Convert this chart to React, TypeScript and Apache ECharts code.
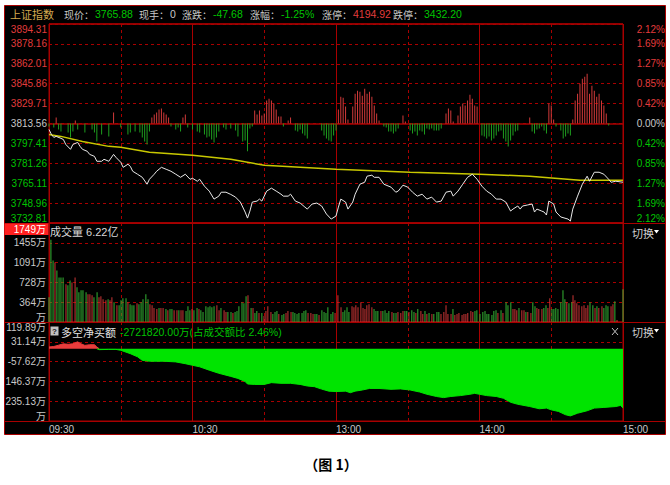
import React, { useEffect, useRef } from "react";
import * as echarts from "echarts";

// ---------- tick labels ----------
const timeTicks = ["09:30", "10:30", "13:00", "14:00", "15:00"];
const priceTicks = ["3732.81", "3748.96", "3765.11", "3781.26", "3797.41", "3813.56", "3829.71", "3845.86", "3862.01", "3878.16", "3894.31"];
const pctTicks = ["2.12%", "1.69%", "1.27%", "0.85%", "0.42%", "0.00%", "0.42%", "0.85%", "1.27%", "1.69%", "2.12%"];
const volumeTicks = ["万", "364万", "728万", "1091万", "1455万"];
const netBuyTicks = ["万", "235.13万", "146.37万", "-57.62万", "31.14万", "119.89万"];

const PRICE_MIN = 3732.81;
const PRICE_MAX = 3894.31;
const PRICE_STEP = 16.15;
const VOL_MAX = 1819;
const VOL_STEP = 363.8;
const NET_MIN = -323.91;
const NET_MAX = 119.89;
const NET_STEP = 88.76;

// ---------- header quote ----------
const quoteName = "上证指数";
const quoteFields = [
  ["现价：", "3765.88", "g"],
  ["现手：", "0", "w"],
  ["涨跌：", "-47.68", "g"],
  ["涨幅：", "-1.25%", "g"],
  ["涨停：", "4194.92", "r"],
  ["跌停：", "3432.20", "g"],
];
const volumeTitle = "成交量 6.22亿";
const volumeCursor = "1749万";
const netBuyTitle = "多空净买额";
const netBuyValue = "-2721820.00万(占成交额比 2.46%)";

// ---------- series: [minute from 09:30, value] ----------
const priceLine = [
  [0, 3808.7], [1, 3804.7], [2, 3802.3], [3, 3803.1], [5, 3801.5], [6, 3800.6], [7, 3796.6], [9, 3792.6], [10, 3796.6], [12, 3798.2],
  [13, 3795.0], [14, 3792.6], [16, 3791.0], [17, 3788.5], [19, 3786.9], [20, 3782.9], [22, 3782.9], [23, 3784.5], [25, 3782.9], [27, 3788.5],
  [28, 3786.1], [30, 3782.1], [31, 3778.0], [33, 3780.5], [34, 3778.8], [35, 3774.8], [37, 3772.4], [39, 3769.9], [41, 3764.3], [42, 3768.3],
  [44, 3772.4], [45, 3774.8], [47, 3778.0], [49, 3776.4], [51, 3774.8], [53, 3772.4], [55, 3769.9], [57, 3772.4], [59, 3768.3], [60, 3769.1],
  [62, 3766.7], [63, 3768.3], [65, 3762.7], [67, 3758.7], [69, 3752.2], [71, 3754.6], [72, 3757.8], [74, 3757.8], [76, 3756.0], [78, 3753.8],
  [80, 3749.8], [82, 3741.7], [83, 3736.8], [84, 3742.5], [85, 3749.8], [87, 3750.6], [88, 3752.2], [89, 3750.6], [91, 3758.7], [93, 3761.1],
  [95, 3758.7], [97, 3756.2], [98, 3754.6], [100, 3754.6], [101, 3756.2], [103, 3750.6], [105, 3749.0], [107, 3745.7], [108, 3744.1], [110, 3748.2],
  [112, 3749.0], [114, 3746.6], [116, 3740.1], [118, 3736.0], [120, 3738.5], [121, 3745.7], [122, 3752.2], [124, 3749.8], [125, 3744.1], [127, 3749.8],
  [128, 3756.2], [130, 3764.3], [132, 3765.9], [133, 3770.8], [135, 3771.6], [136, 3769.9], [138, 3769.9], [140, 3764.3], [143, 3761.9], [145, 3757.8],
  [146, 3758.7], [148, 3763.5], [150, 3761.9], [152, 3757.8], [154, 3754.6], [156, 3756.2], [158, 3752.2], [160, 3753.8], [162, 3749.8], [164, 3750.6],
  [166, 3757.8], [168, 3758.7], [169, 3754.6], [171, 3758.7], [173, 3764.3], [175, 3769.9], [177, 3772.4], [179, 3768.3], [181, 3762.7], [183, 3758.7],
  [185, 3756.2], [187, 3752.2], [189, 3752.2], [191, 3749.8], [193, 3742.5], [194, 3744.1], [196, 3746.6], [197, 3744.1], [198, 3746.6], [200, 3747.4],
  [202, 3748.2], [203, 3741.7], [204, 3744.1], [206, 3742.5], [207, 3741.7], [208, 3739.3], [209, 3750.6], [211, 3748.2], [212, 3741.7], [214, 3737.7],
  [217, 3736.0], [218, 3734.4], [219, 3744.1], [221, 3754.6], [223, 3764.3], [225, 3770.8], [226, 3766.7], [228, 3774.0], [230, 3774.0], [232, 3772.4],
  [234, 3768.3], [235, 3765.9], [237, 3766.7], [240, 3765.9],
];

const avgLine = [
  [0, 3804.7], [5, 3803.1], [14, 3799.0], [25, 3795.0], [30, 3794.2], [42, 3790.2], [60, 3787.7], [76, 3784.5],
  [90, 3779.7], [120, 3776.4], [151, 3774.0], [180, 3772.4], [201, 3770.8], [222, 3767.5], [240, 3767.5],
];

// buying / selling power bars (arbitrary units, + red, - green)
const powerBars = [
  [0, -3], [2, -4], [3, 6], [4, -6], [5, -8], [8, -9], [9, -14], [10, -8], [11, 3], [12, -6], [15, -9], [18, -6], [19, -9], [20, -18],
  [22, -11], [25, -13], [27, 11], [30, -4], [33, -11], [34, -9], [36, -8], [38, -9], [39, -14], [40, -18], [41, -21], [42, -8], [43, 6],
  [44, 9], [45, 11], [46, 14], [47, 15], [48, 11], [49, 9], [50, 6], [51, -3], [53, -6], [54, -4], [55, -8], [56, 6], [57, 9], [58, -4],
  [60, -6], [62, -8], [63, -9], [65, -11], [66, -14], [67, -13], [68, -16], [69, -19], [70, -14], [71, -8], [73, -4], [74, -6], [76, -5],
  [78, -7], [79, -13], [81, -18], [82, -17], [83, -28], [84, -5], [85, -3], [86, 13], [87, 9], [88, 13], [89, 8], [90, 10], [91, 23],
  [92, 25], [93, 23], [94, 20], [95, 14], [96, 7], [97, 7], [98, -3], [100, 3], [101, 6], [103, -7], [104, -8], [105, -6], [106, -10],
  [107, -12], [108, -15], [114, -7], [115, -12], [116, -15], [117, -17], [118, -18], [119, -12], [120, -7], [121, 14], [122, 27], [123, 26],
  [124, 17], [125, 4], [127, 17], [128, 30], [129, 33], [130, 32], [131, 28], [132, 35], [133, 30], [134, 32], [135, 27], [136, 18],
  [137, 10], [138, 3], [140, -3], [141, -4], [142, -8], [143, -8], [144, -10], [145, -8], [146, -5], [148, 8], [149, 2], [151, -7],
  [152, -10], [153, -8], [154, -12], [155, -7], [156, -8], [157, -11], [158, -5], [159, -6], [160, -5], [161, -7], [162, -7], [163, -7],
  [164, -5], [166, 10], [167, 15], [168, 13], [169, 2], [171, 8], [172, 17], [173, 20], [174, 18], [175, 23], [176, 29], [177, 25],
  [178, 18], [179, 17], [181, -12], [182, -13], [183, -15], [184, -13], [185, -17], [186, -15], [187, -12], [188, -8], [189, -7], [190, -15],
  [191, -18], [192, -23], [193, -17], [194, -12], [195, -8], [196, -7], [201, 6], [202, -8], [203, -10], [204, -6], [205, -5], [206, -3],
  [207, -7], [208, -10], [209, 20], [210, 18], [211, 4], [212, -3], [214, -7], [215, -15], [216, -13], [217, -10], [218, -12], [219, 4],
  [220, 23], [221, 30], [222, 40], [223, 45], [224, 47], [225, 50], [226, 30], [227, 38], [228, 33], [229, 27], [230, 30], [231, 23],
  [232, 18], [233, 10], [234, -2],
];

// volume: [minute, 万, 1 = up(red) / 0 = down(green)]
const volumeBars = [
  [0.0, 455, 0], [0.8, 1511, 0], [1.7, 1128, 0], [2.5, 1092, 1], [3.3, 946, 0], [4.2, 819, 0], [5.0, 819, 0], [5.9, 819, 0], [7.1, 692, 1], [7.9, 673, 0],
  [8.8, 764, 0], [9.6, 728, 1], [10.9, 819, 1], [11.7, 637, 0], [12.5, 546, 0], [13.4, 582, 0], [14.2, 582, 0], [15.5, 546, 0], [16.3, 510, 1], [17.1, 510, 1],
  [18.0, 491, 1], [18.8, 455, 0], [20.1, 546, 0], [20.9, 455, 1], [21.7, 473, 1], [22.6, 419, 1], [23.8, 400, 1], [24.7, 419, 0], [25.5, 400, 1], [26.3, 455, 1],
  [27.2, 364, 0], [28.4, 309, 1], [29.3, 309, 0], [30.1, 400, 0], [30.9, 437, 0], [32.2, 437, 0], [33.0, 364, 1], [33.9, 328, 0], [34.7, 309, 0], [35.5, 309, 0],
  [36.8, 346, 1], [37.6, 328, 0], [38.5, 364, 0], [39.3, 419, 0], [40.5, 510, 0], [41.4, 419, 0], [42.2, 328, 1], [43.1, 309, 1], [43.9, 255, 1], [45.1, 237, 1],
  [46.0, 255, 0], [46.8, 255, 1], [47.7, 255, 1], [48.9, 237, 0], [49.7, 218, 1], [50.6, 237, 0], [51.4, 237, 0], [52.3, 218, 1], [53.5, 218, 1], [54.3, 218, 0],
  [55.2, 218, 1], [56.0, 218, 1], [57.3, 200, 0], [58.1, 291, 0], [58.9, 218, 0], [59.8, 237, 1], [60.6, 218, 0], [61.9, 255, 0], [62.7, 237, 1], [63.5, 218, 0],
  [64.4, 182, 0], [65.6, 291, 0], [66.5, 273, 0], [67.3, 291, 0], [68.1, 273, 0], [69.0, 291, 0], [70.2, 309, 1], [71.1, 218, 1], [71.9, 255, 0], [73.2, 218, 1],
  [74.0, 182, 1], [74.8, 182, 0], [76.1, 182, 0], [76.9, 164, 1], [77.8, 182, 0], [78.6, 200, 0], [79.4, 291, 0], [80.7, 364, 0], [81.5, 346, 0], [82.4, 473, 0],
  [83.2, 491, 1], [84.5, 255, 0], [85.3, 255, 1], [86.1, 164, 0], [86.9, 200, 0], [87.8, 164, 1], [89.0, 164, 0], [89.9, 109, 1], [90.7, 200, 1], [91.5, 291, 1],
  [92.8, 182, 1], [93.6, 146, 0], [94.5, 182, 0], [95.3, 200, 0], [96.1, 146, 1], [97.4, 127, 0], [98.2, 146, 0], [99.1, 164, 1], [99.9, 200, 1], [101.2, 182, 1],
  [102.0, 182, 0], [102.8, 164, 0], [103.7, 146, 0], [104.5, 164, 0], [105.8, 164, 0], [106.6, 200, 0], [107.4, 218, 0], [108.3, 164, 1], [109.5, 164, 1], [110.4, 146, 1],
  [111.2, 146, 0], [112.0, 146, 0], [112.9, 127, 1], [114.1, 218, 0], [115.0, 182, 0], [115.8, 164, 0], [116.6, 273, 0], [117.9, 146, 0], [118.7, 182, 0], [119.6, 164, 1],
  [120.8, 491, 1], [122.1, 273, 1], [122.9, 182, 0], [123.7, 218, 0], [124.6, 273, 0], [125.4, 182, 0], [126.7, 291, 1], [127.5, 273, 1], [128.3, 309, 1], [129.2, 273, 1],
  [130.4, 364, 1], [131.3, 255, 1], [132.1, 237, 1], [132.9, 309, 1], [133.8, 328, 1], [135.0, 273, 1], [135.9, 237, 0], [136.7, 200, 0], [137.5, 200, 0], [138.8, 200, 1],
  [139.6, 200, 0], [140.5, 218, 0], [141.3, 164, 0], [142.1, 200, 0], [143.4, 182, 1], [144.2, 164, 0], [145.1, 164, 0], [145.9, 182, 1], [147.1, 164, 1], [148.0, 200, 1],
  [148.8, 200, 0], [149.6, 200, 0], [150.5, 182, 1], [151.7, 218, 0], [152.6, 182, 0], [153.4, 164, 1], [154.2, 237, 0], [155.5, 200, 1], [156.3, 146, 1], [157.2, 200, 0],
  [158.0, 146, 1], [158.9, 164, 0], [160.1, 146, 1], [160.9, 146, 0], [162.2, 182, 0], [163.0, 182, 0], [163.9, 146, 1], [165.1, 182, 1], [166.0, 309, 1], [166.8, 146, 1],
  [168.1, 146, 1], [168.9, 237, 0], [169.7, 127, 1], [170.6, 146, 1], [171.4, 164, 1], [172.7, 127, 1], [173.5, 146, 1], [174.3, 146, 1], [175.1, 164, 1], [176.4, 200, 1],
  [177.2, 182, 1], [178.1, 200, 0], [178.9, 218, 0], [180.2, 146, 0], [181.4, 182, 0], [182.3, 200, 0], [183.1, 146, 0], [183.9, 146, 0], [185.2, 127, 0], [186.0, 200, 0],
  [186.9, 218, 0], [187.7, 164, 1], [189.0, 218, 0], [189.8, 164, 1], [191.1, 364, 0], [191.9, 309, 0], [193.1, 364, 0], [194.0, 237, 1], [194.8, 237, 1], [195.6, 218, 1],
  [196.5, 255, 0], [197.7, 218, 1], [198.6, 218, 1], [199.4, 182, 0], [200.2, 182, 1], [201.5, 164, 1], [202.3, 364, 0], [203.2, 291, 0], [204.0, 255, 1], [204.8, 237, 1],
  [206.1, 237, 1], [206.9, 255, 0], [207.8, 309, 0], [208.6, 255, 1], [209.4, 437, 1], [210.3, 237, 0], [211.1, 237, 0], [211.9, 255, 0], [212.8, 237, 0], [214.0, 364, 0],
  [214.9, 582, 0], [215.7, 419, 0], [216.5, 364, 1], [217.4, 346, 0], [218.6, 364, 0], [219.1, 491, 1], [219.9, 400, 1], [220.7, 346, 1], [221.6, 309, 1], [222.8, 291, 1],
  [223.7, 309, 1], [224.5, 255, 1], [225.3, 309, 1], [226.2, 364, 0], [227.4, 309, 0], [228.3, 255, 1], [229.1, 291, 0], [229.9, 255, 1], [231.2, 291, 1], [232.0, 255, 0],
  [232.9, 309, 0], [233.7, 291, 0], [235.0, 291, 1], [235.8, 328, 1], [236.6, 382, 0], [237.5, 36, 1], [240.0, 600, 0],
];

// net buy (万)
const netBuyUp = [
  [0, 8], [2, 10], [4, 16], [6, 22], [8, 20], [10, 22], [11, 27], [12, 31], [13, 24], [15, 15], [17, 18], [19, 18], [20, 8], [21, 0],
];
const netBuyDown = [
  [20, 0], [21, -4], [25, -3], [28, -3], [30, -7], [34, -22], [37, -36], [39, -52], [42, -56], [48, -56], [53, -59], [57, -67], [60, -74],
  [63, -81], [67, -96], [71, -110], [76, -124], [79, -133], [82, -147], [83, -158], [86, -160], [90, -160], [93, -152], [97, -155],
  [101, -155], [105, -160], [108, -167], [111, -170], [114, -181], [117, -190], [120, -192], [124, -190], [126, -197], [128, -190],
  [131, -185], [134, -178], [138, -178], [143, -182], [147, -180], [151, -185], [155, -194], [158, -204], [162, -214], [165, -219],
  [168, -214], [172, -210], [176, -204], [178, -200], [180, -204], [183, -210], [187, -214], [190, -222], [193, -240], [196, -249],
  [201, -259], [205, -269], [208, -266], [210, -274], [213, -281], [216, -296], [218, -301], [221, -289], [225, -278], [228, -266],
  [232, -263], [237, -259], [239, -254], [240, -266],
];

// ---------- styles ----------
const C_GRID = "#a80000";
const C_RED = "#e23c3c";
const C_GREEN = "#00c400";
const C_GREY = "#c8c8c8";
const C_GOLD = "#d4aa50";
const FONT = '"Liberation Sans", "Noto Sans CJK SC", sans-serif';
const CJK = '"Noto Sans CJK SC", sans-serif';

const L = 49;
const R = 623;

function xAx(grid: number, interval: number, dashed: boolean, position: string, labels = false) {
  return {
    type: "value",
    gridIndex: grid,
    min: 0,
    max: 240,
    interval,
    position,
    axisLine: { show: false },
    axisTick: { show: false },
    axisLabel: labels
      ? {
          show: true,
          align: "left",
          margin: 3,
          color: C_GREY,
          fontSize: 10,
          fontFamily: FONT,
          formatter: (v: number) => timeTicks[Math.round(v / 60)] || "",
        }
      : { show: false },
    splitLine: { show: true, lineStyle: { color: C_GRID, width: 1, type: dashed ? [3, 3] : "solid" } },
  };
}

function tickIndex(v: any, min: number, step: number) {
  return Math.round((Number(v) - min) / step);
}

function priceColor(v: any) {
  const i = tickIndex(v, PRICE_MIN, PRICE_STEP);
  return i > 5 ? C_RED : i === 5 ? C_GREY : C_GREEN;
}

function text(x: number, y: number, s: string, fill: string, opts: any = {}) {
  return {
    type: "text",
    x,
    y,
    style: {
      text: s,
      fill,
      fontSize: opts.fontSize || 10.5,
      fontFamily: opts.fontFamily || FONT,
      fontWeight: opts.fontWeight || "normal",
      align: opts.align || "left",
      verticalAlign: "middle",
    },
  };
}

function buildHeader() {
  const items: any[] = [text(10, 14, quoteName, C_GOLD, { fontSize: 11, fontFamily: CJK })];
  const labelX = [64, 139, 182, 250, 322, 393];
  const valueX = [95, 170, 213, 281, 353, 424];
  const colorOf: any = { g: C_GREEN, r: C_RED, w: C_GREY };
  quoteFields.forEach((f, i) => {
    items.push(text(labelX[i], 14, f[0], C_GREY, { fontSize: 10, fontFamily: CJK }));
    items.push(text(valueX[i], 14, f[1], colorOf[f[2]], { fontSize: 10.5 }));
  });
  return items;
}

function switchButton(y: number) {
  return [
    text(632, y, "切换", "#d0d0d0", { fontSize: 11, fontFamily: CJK }),
    {
      type: "polygon",
      shape: { points: [[654, y - 2.5], [659, y - 2.5], [656.5, y + 1]] },
      style: { fill: "#ffffff" },
    },
  ];
}

function hLine(y: number) {
  return { type: "line", shape: { x1: 4, y1: y, x2: 666, y2: y }, style: { stroke: C_GRID, lineWidth: 1 } };
}

export default function App() {
  const ref = useRef<HTMLDivElement>(null);

  useEffect(() => {
    if (!ref.current) return;
    const chart = echarts.init(ref.current, null, { renderer: "svg" });

    const gridBase = { left: L, width: R - L, show: true, borderColor: C_GRID, borderWidth: 1, backgroundColor: "transparent" };

    const option: any = {
      animation: false,
      backgroundColor: "#ffffff",
      grid: [
        { ...gridBase, top: 24, height: 199 },
        { ...gridBase, top: 223, height: 99 },
        { ...gridBase, top: 322, height: 99 },
      ],
      xAxis: [
        xAx(0, 30, true, "top"),
        xAx(0, 60, false, "bottom"),
        xAx(1, 30, true, "top"),
        xAx(1, 60, false, "bottom"),
        xAx(2, 30, true, "top"),
        xAx(2, 60, false, "bottom", true),
      ],
      yAxis: [
        {
          type: "value",
          gridIndex: 0,
          min: PRICE_MIN,
          max: PRICE_MAX,
          interval: PRICE_STEP,
          position: "left",
          axisLine: { show: false },
          axisTick: { show: false },
          splitLine: { show: true, lineStyle: { color: C_GRID, type: [3, 3] } },
          axisLabel: {
            margin: 2,
            fontSize: 10,
            fontFamily: FONT,
            color: (v: any) => priceColor(v),
            formatter: (v: any) => priceTicks[tickIndex(v, PRICE_MIN, PRICE_STEP)] || "",
            verticalAlignMaxLabel: "top",
            verticalAlignMinLabel: "bottom",
          },
        },
        {
          type: "value",
          gridIndex: 0,
          min: PRICE_MIN,
          max: PRICE_MAX,
          interval: PRICE_STEP,
          position: "right",
          axisLine: { show: false },
          axisTick: { show: false },
          splitLine: { show: false },
          axisLabel: {
            align: "right",
            margin: 42,
            fontSize: 10,
            fontFamily: FONT,
            color: (v: any) => priceColor(v),
            formatter: (v: any) => pctTicks[tickIndex(v, PRICE_MIN, PRICE_STEP)] || "",
            verticalAlignMaxLabel: "top",
            verticalAlignMinLabel: "bottom",
          },
        },
        {
          type: "value",
          gridIndex: 0,
          min: -100,
          max: 100,
          interval: 100,
          position: "right",
          axisLine: { show: false },
          axisTick: { show: false },
          axisLabel: { show: false },
          splitLine: { show: true, lineStyle: { color: C_GRID, width: 1.5, type: "solid" } },
        },
        {
          type: "value",
          gridIndex: 1,
          min: 0,
          max: VOL_MAX,
          interval: VOL_STEP,
          position: "left",
          axisLine: { show: false },
          axisTick: { show: false },
          splitLine: { show: true, lineStyle: { color: C_GRID, type: [3, 3] } },
          axisLabel: {
            margin: 3,
            fontSize: 10,
            fontFamily: FONT,
            color: C_GREY,
            formatter: (v: any) => volumeTicks[tickIndex(v, 0, VOL_STEP)] || "",
            verticalAlignMinLabel: "bottom",
          },
        },
        {
          type: "value",
          gridIndex: 2,
          min: NET_MIN,
          max: NET_MAX,
          interval: NET_STEP,
          position: "left",
          axisLine: { show: false },
          axisTick: { show: false },
          splitLine: { show: true, lineStyle: { color: C_GRID, type: [3, 3] } },
          axisLabel: {
            margin: 3,
            fontSize: 10,
            fontFamily: FONT,
            color: C_GREY,
            formatter: (v: any) => netBuyTicks[tickIndex(v, NET_MIN, NET_STEP)] || "",
            verticalAlignMaxLabel: "top",
            verticalAlignMinLabel: "bottom",
          },
        },
      ],
      series: [
        {
          type: "bar",
          xAxisIndex: 1,
          yAxisIndex: 2,
          barWidth: 1,
          z: 3,
          data: powerBars.map(([m, v]) => ({ value: [m, v], itemStyle: { color: v >= 0 ? "#d23a3a" : "#1e9e1e" } })),
        },
        {
          type: "line",
          xAxisIndex: 1,
          yAxisIndex: 0,
          data: avgLine,
          showSymbol: false,
          z: 4,
          lineStyle: { color: "#c8c800", width: 1.5 },
        },
        {
          type: "line",
          xAxisIndex: 1,
          yAxisIndex: 0,
          data: priceLine,
          showSymbol: false,
          z: 5,
          lineStyle: { color: "#e8e8e8", width: 1 },
        },
        {
          type: "bar",
          xAxisIndex: 3,
          yAxisIndex: 3,
          barWidth: 1,
          z: 3,
          data: volumeBars.map(([m, v, d]) => ({ value: [m, v], itemStyle: { color: d ? "#cc3636" : "#34b434" } })),
        },
        {
          type: "line",
          xAxisIndex: 5,
          yAxisIndex: 4,
          data: netBuyUp,
          showSymbol: false,
          z: 3,
          lineStyle: { color: "#e83c3c", width: 1 },
          areaStyle: { color: "#e83c3c", opacity: 1 },
        },
        {
          type: "line",
          xAxisIndex: 5,
          yAxisIndex: 4,
          data: netBuyDown,
          showSymbol: false,
          z: 3,
          lineStyle: { color: "#00e400", width: 1 },
          areaStyle: { color: "#00e400", opacity: 1 },
        },
      ],
      graphic: [
        {
          type: "rect",
          z: -100,
          shape: { x: 4.5, y: 5.5, width: 661, height: 429 },
          style: { fill: "#000000", stroke: C_GRID, lineWidth: 1 },
        },
        hLine(223.5),
        hLine(322.5),
        hLine(421.5),
        ...buildHeader(),
        {
          type: "rect",
          shape: { x: 4.5, y: 223.5, width: 44, height: 11.5 },
          style: { fill: "#ff2020" },
        },
        text(46, 229.5, volumeCursor, "#ffffff", { fontSize: 10, align: "right" }),
        text(50, 232, volumeTitle, "#d8d8d8", { fontSize: 11 }),
        ...switchButton(232.5),
        {
          type: "rect",
          shape: { x: 50.5, y: 326.5, width: 8, height: 9 },
          style: { fill: "#c0c0c0" },
        },
        text(54.5, 331.5, "?", "#202020", { fontSize: 8, fontWeight: "bold", align: "center" }),
        text(61, 331.5, netBuyTitle, "#e0e0e0", { fontSize: 11, fontFamily: CJK }),
        text(120, 331.5, netBuyValue, C_GREEN, { fontSize: 10.5 }),
        { type: "line", shape: { x1: 612, y1: 328, x2: 618, y2: 335 }, style: { stroke: "#c0c0c0", lineWidth: 1 } },
        { type: "line", shape: { x1: 618, y1: 328, x2: 612, y2: 335 }, style: { stroke: "#c0c0c0", lineWidth: 1 } },
        ...switchButton(331.5),
        text(331, 464, "（图 1）", "#000000", { fontSize: 14, fontWeight: "bold", fontFamily: CJK, align: "center" }),
      ],
    };

    chart.setOption(option);
    return () => chart.dispose();
  }, []);

  return <div ref={ref} style={{ position: "absolute", left: 0, top: 0, width: 670, height: 485 }} />;
}
